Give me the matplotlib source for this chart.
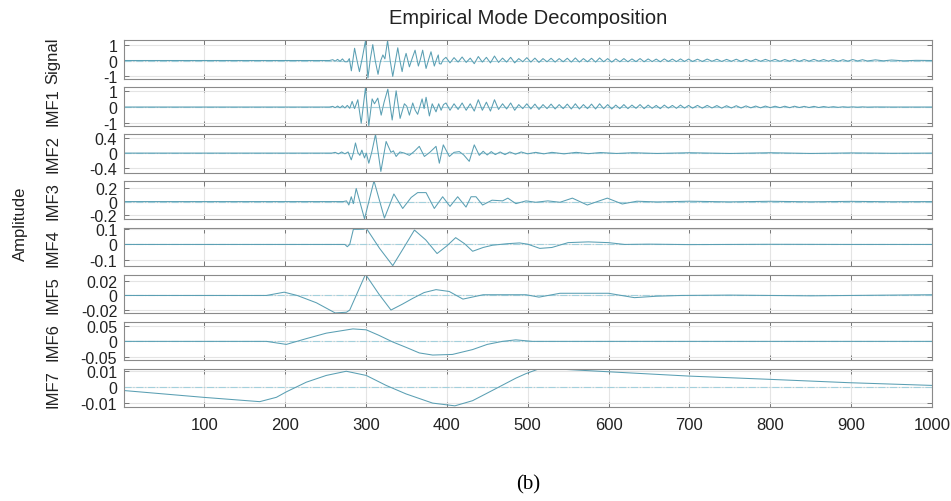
import matplotlib.pyplot as plt

plt.rcParams['font.family'] = ['Liberation Sans', 'DejaVu Sans']

# --- values (x = sample index) ---
sig_x = [1, 255, 259, 262, 265, 268, 271, 274, 277, 279.5, 282, 286, 289, 292, 295.5,
         299.5, 302.5, 305.5, 308.5, 311.5, 315, 318, 321, 323.5, 326.8, 330, 333.2,
         336.3, 339.4, 342, 344.8, 347.3, 349.7, 353.8, 357, 360.8, 364.9, 367.5,
         370.2, 374.4, 377.5, 380.5, 384.6, 387.5, 389.5, 390.8, 393, 395.5]
sig_y = [0, 0, 0.05, -0.04, 0.07, -0.05, 0.1, -0.08, -0.08, 0.12, -0.65, 0.77, 0.0, -0.7, 0.15,
         1.25, -1.1, 0.1, 1.0, 0.0, -0.87, -0.05, 0.35, 0.1, 1.25, 0.0, -1.0,
         -0.1, 0.8, 0.0, -0.7, 0.0, 0.45, -0.4, 0.1, 0.65, -0.35, 0.1,
         0.65, -0.5, 0.05, 0.55, -0.35, 0.1, 0.35, -0.2, -0.22, 0.05]

tail_x = [399, 404, 409, 414, 419, 424, 429, 434, 439, 444,
          449, 454, 459, 464, 469, 474, 479, 484, 489, 494,
          499, 504, 509, 514, 519, 524, 529, 534, 539, 544,
          549, 554, 559, 564, 569, 574, 579, 584, 589, 594,
          599, 604, 609, 614, 619, 624, 629, 634, 639, 644,
          649, 654, 659, 664, 669, 674, 679, 684, 689, 694,
          699, 704, 710, 716, 722, 728, 734, 740, 746, 752,
          758, 764, 770, 776, 782, 788, 794, 800, 806, 812,
          818, 824, 830, 836, 842, 848, 854, 860, 866, 872,
          878, 884, 890, 896, 902, 908, 914, 920, 930, 940,
          950, 965, 980, 1000]
sig_tail = [0.2, -0.15, 0.18, -0.1, 0.22, -0.12, 0.15, -0.2, 0.25, -0.1,
            0.2, -0.15, 0.28, -0.12, 0.15, -0.1, 0.2, -0.15, 0.12, -0.08,
            0.18, -0.1, 0.15, -0.12, 0.12, -0.08, 0.14, -0.1, 0.12, -0.08,
            0.14, -0.1, 0.16, -0.1, 0.12, -0.08, 0.14, -0.1, 0.16, -0.08,
            0.12, -0.1, 0.1, -0.08, 0.12, -0.08, 0.1, -0.07, 0.12, -0.08,
            0.1, -0.07, 0.09, -0.08, 0.1, -0.06, 0.09, -0.07, 0.1, -0.06,
            0.09, -0.06, 0.08, -0.06, 0.09, -0.05, 0.08, -0.06, 0.07, -0.05,
            0.08, -0.06, 0.07, -0.05, 0.08, -0.05, 0.07, -0.04, 0.07, -0.05,
            0.06, -0.04, 0.07, -0.05, 0.06, -0.04, 0.07, -0.04, 0.06, -0.04,
            0.06, -0.05, 0.05, -0.04, 0.06, -0.03, 0.05, -0.03, 0.04, -0.02,
            0.03, -0.02, 0.01, 0.0]

imf1_x = [1, 255, 259, 262, 265, 268, 271, 274, 277, 280,
          283, 286, 290, 294.2, 299.5, 303.6, 307.7, 310.6, 314.7, 318.9,
          322.5, 327.1, 332.5, 337.4, 342.3, 347.6, 350.5, 353.8, 357.9, 361,
          364, 369.5, 372, 374.4, 378.5, 382, 386.7, 390, 393, 396]
imf1_y = [0, 0, 0.04, -0.04, 0.06, -0.05, 0.08, -0.06, 0.1, -0.08,
          0.35, -0.1, 0.45, -1.0, 1.2, -1.15, 0.5, 0.2, 0.55, -0.5,
          0.3, 1.1, -0.8, 1.0, -0.7, 0.2, 0.05, -0.5, 0.25, -0.2,
          -0.45, 0.5, -0.1, 0.6, -0.55, 0.2, -0.3, 0.2, -0.2, 0.15]
imf1_tail = [0.25, -0.2, 0.2, -0.15, 0.25, -0.2, 0.2, -0.25, 0.45, -0.2,
             0.3, -0.25, 0.45, -0.15, 0.2, -0.12, 0.25, -0.2, 0.15, -0.1,
             0.2, -0.12, 0.18, -0.15, 0.15, -0.1, 0.18, -0.12, 0.15, -0.1,
             0.18, -0.12, 0.2, -0.12, 0.15, -0.1, 0.18, -0.12, 0.2, -0.1,
             0.15, -0.12, 0.12, -0.1, 0.15, -0.1, 0.12, -0.08, 0.15, -0.1,
             0.12, -0.08, 0.1, -0.1, 0.12, -0.07, 0.1, -0.08, 0.12, -0.07,
             0.1, -0.07, 0.1, -0.07, 0.1, -0.06, 0.09, -0.07, 0.08, -0.06,
             0.08, -0.06, 0.07, -0.05, 0.06, -0.05, 0.06, -0.04, 0.05, -0.04,
             0.05, -0.04, 0.05, -0.03, 0.04, -0.03, 0.04, -0.03, 0.03, -0.02,
             0.02, -0.02, 0.015, -0.01, 0.01, -0.01, 0.01, -0.005, 0.005, 0.0,
             0.0, 0.0, 0.0, 0.0]

imf2_x = [1, 258, 262, 266, 270, 274, 278, 281.9, 284.5, 287.1, 290, 292.5, 295, 298.3,
          300.5, 303.6, 307.5, 311.9, 318.5, 325, 331, 334, 337.4, 342, 347.6, 353.8,
          360, 366, 372.3, 379, 386.7, 390.8, 395.7, 403.2, 409, 415.5, 421, 427.8,
          434, 440.2, 445, 450, 455, 460, 466, 472, 478, 485, 492, 500, 510, 520,
          530, 545, 560, 575, 590, 610, 630, 660, 700, 750, 800, 850, 900, 950, 1000]
imf2_y = [0, 0, 0.02, -0.02, 0.03, -0.02, 0.03, -0.18, 0.0, 0.27, 0.02, -0.06, 0.08, -0.13,
          0.0, -0.27, 0.05, 0.5, -0.49, 0.31, 0.02, 0.06, -0.09, 0.03, 0.0, -0.06,
          0.05, 0.18, -0.09, 0.02, 0.18, -0.27, 0.22, -0.09, 0.02, 0.04, -0.05, -0.22,
          0.22, -0.06, 0.05, -0.05, 0.04, -0.04, 0.03, -0.04, 0.03, -0.03, 0.03, -0.02, 0.02, -0.02,
          0.02, -0.02, 0.02, -0.015, 0.015, -0.01, 0.01, -0.01, 0.01, -0.01, 0.01, -0.01, 0.005, -0.005, 0]

imf3_x = [1, 272, 276, 278.9, 281.9, 284.5, 288, 298.3, 310, 322.9, 334.6, 345.5,
          356, 364, 374.4, 384.6, 394.9, 404, 413.5, 423.8, 430, 436.1, 444.3,
          456, 469, 475.5, 485.5, 498, 510, 525, 540, 555.3, 573.8, 598.5, 617,
          635, 660, 700, 750, 800, 850, 900, 950, 1000]
imf3_y = [0, 0, 0.01, -0.05, 0.07, -0.03, 0.19, -0.25, 0.3, -0.24, 0.11, -0.1,
          0.06, 0.13, 0.13, -0.1, 0.07, -0.07, 0.07, -0.08, 0.07, 0.07, -0.05,
          0.02, 0.01, 0.05, -0.03, 0.01, -0.01, 0.01, -0.01, 0.05, -0.05, 0.05, -0.035,
          0.005, -0.005, 0.005, -0.004, 0.004, -0.003, 0.003, -0.002, 0]

imf4_x = [1, 274, 277, 280, 284.5, 290, 297, 300.5, 316.8, 333.2, 347, 360, 374, 388,
          400, 411, 422, 432, 445, 456.6, 475, 490, 500, 515, 530, 550, 575, 600, 620,
          650, 700, 800, 900, 1000]
imf4_y = [0, 0, -0.015, 0.0, 0.1, 0.1, 0.101, 0.107, -0.025, -0.14, -0.02, 0.095, 0.03, -0.06,
          -0.01, 0.045, 0.005, -0.045, -0.02, -0.005, 0.005, 0.01, 0.002, -0.026, -0.02, 0.012, 0.017, 0.012, 0.0,
          0.002, -0.001, 0.001, 0.0, 0.0]

imf5_x = [1, 150, 177, 199, 215, 238.7, 262, 276, 280, 299.5, 316, 331, 345, 357.9,
          372, 386.7, 403, 420, 445, 470, 498, 514, 540, 570, 600, 632, 660, 690,
          750, 800, 850, 900, 950, 1000]
imf5_y = [0, 0, 0.0, 0.0045, 0.0, -0.01, -0.024, -0.023, -0.02, 0.029, 0.002, -0.02, -0.012, -0.004,
          0.004, 0.008, 0.0055, -0.005, 0.001, 0.001, 0.001, -0.0023, 0.003, 0.003, 0.003, -0.003, -0.001, 0.0,
          0.0005, 0.0, -0.0005, 0.0, 0.0005, 0.001]

imf6_x = [1, 177, 201.6, 226.3, 251, 283.9, 300.4, 316, 333.2, 350, 366, 382.5, 407,
          431.9, 450, 468.9, 485.3, 505.9, 530, 600, 700, 800, 900, 1000]
imf6_y = [0, 0, -0.01, 0.009, 0.027, 0.041, 0.038, 0.02, -0.002, -0.02, -0.038, -0.045, -0.043,
          -0.027, -0.01, 0.0, 0.005, 0.0, 0.0, 0.0, 0.0, 0.0, 0.0, 0.0]

imf7_x = [1, 98.8, 168.7, 189.3, 201.6, 226.3, 251, 275.7, 300.4, 325, 349.7, 382.5,
          410, 431.9, 460.7, 485.4, 497.8, 514, 526.5, 599.3, 699.3, 798, 896.7, 1000]
imf7_y = [-0.0022, -0.0064, -0.0091, -0.0064, -0.003, 0.003, 0.0072, 0.0098, 0.0072, 0.001, -0.0043, -0.01,
          -0.0117, -0.0085, -0.001, 0.0055, 0.0083, 0.0113, 0.0115, 0.0095, 0.0068, 0.0048, 0.0027, 0.001]

names = ['Signal', 'IMF1', 'IMF2', 'IMF3', 'IMF4', 'IMF5', 'IMF6', 'IMF7']
ylims = [(-1.15, 1.28), (-1.15, 1.23), (-0.52, 0.51), (-0.26, 0.30),
         (-0.145, 0.11), (-0.0245, 0.0285), (-0.062, 0.065), (-0.0125, 0.0115)]
yticks = [[-1, 0, 1], [-1, 0, 1], [-0.4, 0, 0.4], [-0.2, 0, 0.2],
          [-0.1, 0, 0.1], [-0.02, 0, 0.02], [-0.05, 0, 0.05], [-0.01, 0, 0.01]]
ylabels_t = [['-1', '0', '1'], ['-1', '0', '1'], ['-0.4', '0', '0.4'], ['-0.2', '0', '0.2'],
             ['-0.1', '0', '0.1'], ['-0.02', '0', '0.02'], ['-0.05', '0', '0.05'], ['-0.01', '0', '0.01']]
xticks = [100, 200, 300, 400, 500, 600, 700, 800, 900, 1000]

series = [(sig_x + tail_x, sig_y + sig_tail),
          (imf1_x + tail_x, imf1_y + imf1_tail),
          (imf2_x, imf2_y), (imf3_x, imf3_y), (imf4_x, imf4_y),
          (imf5_x, imf5_y), (imf6_x, imf6_y), (imf7_x, imf7_y)]

fig, axes = plt.subplots(8, 1, figsize=(9.51, 5.02), dpi=100, sharex=True)
fig.subplots_adjust(left=0.1305, right=0.980, top=0.918, bottom=0.187, hspace=0.215)

for i, ax in enumerate(axes):
    xs, ys = series[i]
    ax.axhline(0, color='#a3d0dc', lw=0.8, ls='-.', zorder=1)
    ax.plot(xs, ys, color='#5a9fb3', lw=0.75, zorder=2)
    ax.set_xlim(1, 1000)
    ax.set_ylim(ylims[i])
    ax.set_yticks(yticks[i])
    ax.set_yticklabels(ylabels_t[i])
    ax.grid(True, color='#e4e4e4', lw=0.8)
    ax.set_axisbelow(True)
    ax.tick_params(direction='in', length=3.5, width=0.6, color='#666666',
                   top=True, right=True, labelsize=11.5, pad=5, labelcolor='#222222')
    for s in ax.spines.values():
        s.set_color('#8a8a8a')
        s.set_linewidth(0.8)
    ax.set_ylabel(names[i], fontsize=12, color='#222222')
    ax.yaxis.set_label_coords(-0.079, 0.5)

axes[-1].set_xticks(xticks)
axes[-1].tick_params(axis='x', pad=7, labelsize=12)

fig.text(0.5552, 1 - 18 / 502, 'Empirical Mode Decomposition', ha='center', va='center',
         fontsize=14.5, color='#222222')
fig.text(20 / 951, 1 - 224 / 502, 'Amplitude', rotation=90, ha='center', va='center',
         fontsize=12, color='#222222')
fig.text(0.5552, 1 - 485 / 502, '(b)', ha='center', va='center', fontsize=15,
         family=['Liberation Serif', 'DejaVu Serif'])

fig.savefig('out.png', dpi=100)
